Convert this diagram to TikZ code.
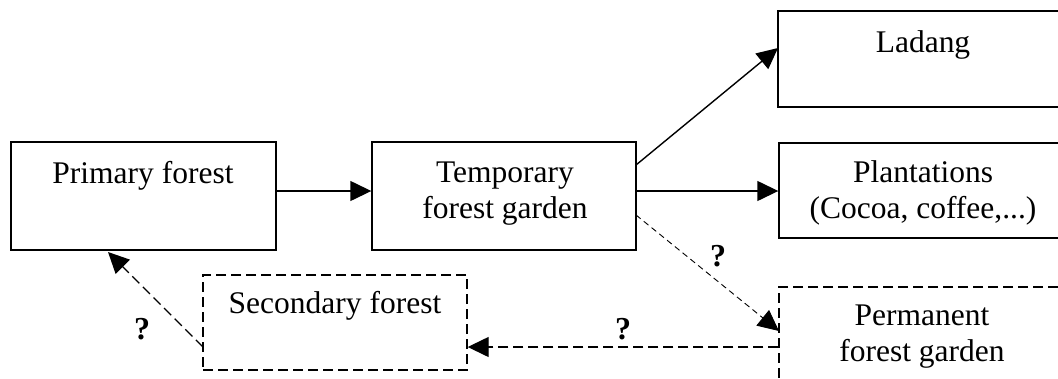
\documentclass[tikz,border=0pt]{standalone}
\usepackage{fontspec}
\setmainfont{Liberation Serif}
\usetikzlibrary{arrows.meta}
\begin{document}
\begin{tikzpicture}[x=1pt,y=-1pt,
  box/.style={draw, line width=1.4pt, inner sep=0pt},
  dbox/.style={box, dash pattern=on 10pt off 5pt},
  txt/.style={font=\fontsize{31.5}{36}\selectfont, align=center, inner sep=0pt, anchor=base},
  arr/.style={line width=1.4pt, -{Triangle[length=21pt,width=20pt]}},
  darr/.style={arr, dash pattern=on 10pt off 5pt},
  tarr/.style={line width=0.9pt, dash pattern=on 6pt off 4pt, -{Triangle[length=21pt,width=20pt]}},
  q/.style={font=\fontsize{32}{36}\selectfont\bfseries, inner sep=0pt}]
\useasboundingbox (0,0) rectangle (1058,378);
% boxes
\node[box, minimum width=265pt, minimum height=108pt] (pf) at (143.5,196) {};
\node[box, minimum width=264pt, minimum height=108pt] (tf) at (504,196) {};
\node[box, minimum width=288pt, minimum height=96pt] (la) at (922,59) {};
\node[box, minimum width=287pt, minimum height=95pt] (pl) at (922.5,190.5) {};
\node[dbox, minimum width=287pt, minimum height=110pt] (pe) at (922.5,342) {};
\node[dbox, minimum width=264pt, minimum height=95pt] (sf) at (335,322.5) {};
% texts
\node[txt] (tpf) at (143,183) {Primary forest};
\node[txt] (ttf) at (505,218) {Temporary\\forest garden};
\node[txt] (tla) at (923,52) {Ladang};
\node[txt] (tpl) at (923,218) {Plantations\\(Cocoa, coffee,...)};
\node[txt] (tpe) at (922,361) {Permanent\\forest garden};
\node[txt] (tsf) at (335,313) {Secondary forest};
% connectors
\coordinate (a1) at (pf.east |- 0,191);
\coordinate (a2) at (tf.west |- 0,191);
\draw[arr] (a1) -- (a2);
\coordinate (b1) at (636,165);
\coordinate (b2) at (778,48);
\draw[arr] (b1) -- (b2);
\coordinate (c1) at (tf.east |- 0,191);
\coordinate (c2) at (pl.west |- 0,191);
\draw[arr] (c1) -- (c2);
\coordinate (d1) at (636,215);
\coordinate (d2) at (779,331);
\draw[tarr] (d1) -- (d2);
\coordinate (e1) at (pe.west |- 0,347);
\coordinate (e2) at (sf.east |- 0,347);
\draw[darr] (e1) -- (e2);
\coordinate (f1) at (203,347);
\coordinate (f2) at (108,252);
\draw[darr] (f1) -- (f2);
% question marks
\node[q] (q1) at (718,256) {?};
\node[q] (q2) at (623,329) {?};
\node[q] (q3) at (142,329) {?};
\end{tikzpicture}
\end{document}
